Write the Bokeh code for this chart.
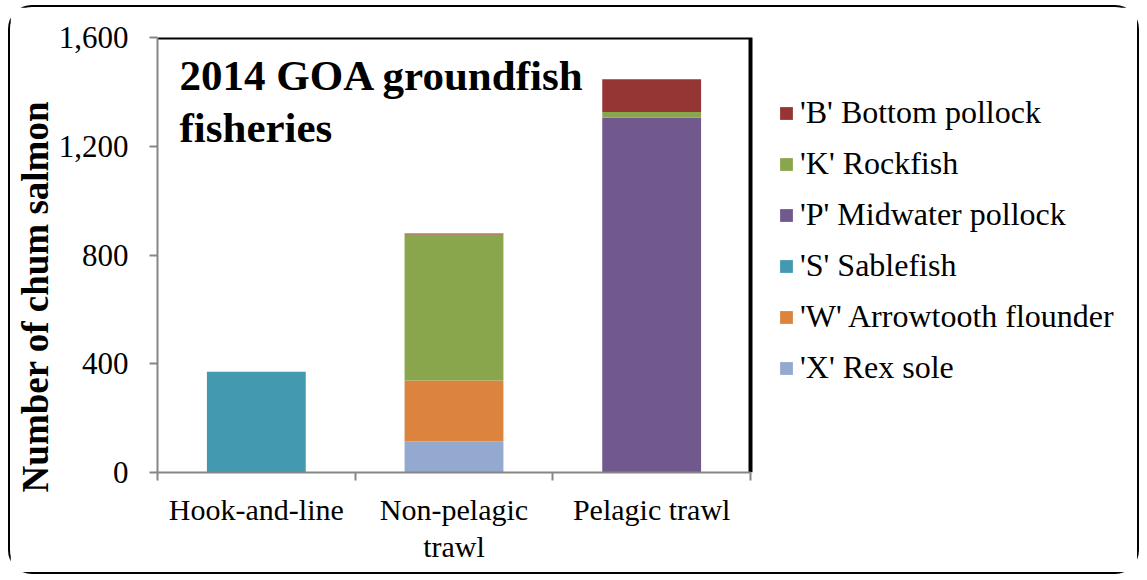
import numpy as np
from bokeh.plotting import figure
from bokeh.models import (ColumnDataSource, FixedTicker, Legend,
                          LegendItem, Label, NumeralTickFormatter, Range1d)
from bokeh.embed import file_html
from bokeh.resources import INLINE

# ---- data ----
categories = ["Hook-and-line", "Non-pelagic\ntrawl", "Pelagic trawl"]
series_keys = ["X", "W", "S", "P", "K", "B"]          # stacking order (bottom -> top)
series_labels = ["'X' Rex sole", "'W' Arrowtooth flounder", "'S' Sablefish",
                 "'P' Midwater pollock", "'K' Rockfish", "'B' Bottom pollock"]
rex_sole = [0, 114, 0]
arrowtooth_flounder = [0, 224, 0]
sablefish = [371, 0, 0]
midwater_pollock = [0, 0, 1305]
rockfish = [0, 537, 21]
bottom_pollock = [0, 4, 120]
series_colors = ["#93A9CF", "#DC843E", "#4299B0", "#71598E", "#8AA64D", "#963634"]
y_ticks = [0, 400, 800, 1200, 1600]
title_text = "2014 GOA groundfish\nfisheries"
y_title = "Number of chum salmon"

FONT = "Liberation Serif"
AXIS_GRAY = "#868686"

# layout (pixels): the bar area is 593 px wide; the frame also holds the legend to its right
W, H = 1131, 569
LEFT, TOP, BOTTOM, RIGHT = 147, 30, 104, 5
BAR_AREA_W = 593
n = len(categories)
x_end = n * (W - LEFT - RIGHT) / BAR_AREA_W

x_pos = np.arange(n) + 0.5
source = ColumnDataSource(dict(
    x=x_pos, X=rex_sole, W=arrowtooth_flounder, S=sablefish,
    P=midwater_pollock, K=rockfish, B=bottom_pollock))

p = figure(width=W, height=H,
           x_range=Range1d(0, x_end), y_range=Range1d(y_ticks[0], y_ticks[-1]),
           output_backend="svg", toolbar_location=None,
           min_border_left=LEFT, min_border_right=RIGHT,
           min_border_top=TOP, min_border_bottom=BOTTOM)
p.styles = {"border": "2px solid black", "border-radius": "24px",
            "margin": "5px 0px 0px 8px"}
p.outline_line_color = None
p.xgrid.visible = False
p.ygrid.visible = False
p.background_fill_color = "white"
p.border_fill_color = "white"

renderers = p.vbar_stack(series_keys, x="x", width=0.5, source=source,
                         fill_color=series_colors, line_color=None)

# black plot-area border on top and right of the bar area
p.line(x=[0, n, n], y=[y_ticks[-1], y_ticks[-1], y_ticks[0]],
       line_color="black", line_width=4)

# ---- y axis ----
ya = p.yaxis[0]
ya.ticker = FixedTicker(ticks=y_ticks)
ya.formatter = NumeralTickFormatter(format="0,0")
ya.axis_line_color = AXIS_GRAY
ya.axis_line_width = 2
ya.major_tick_line_color = AXIS_GRAY
ya.major_tick_line_width = 2
ya.major_tick_out = 8
ya.major_tick_in = 0
ya.minor_tick_line_color = None
ya.major_label_standoff = 21
ya.major_label_text_font = FONT
ya.major_label_text_font_size = "31px"
ya.major_label_text_color = "black"
# trailing no-break spaces shift the centred title toward the bottom, as in the original
ya.axis_label = y_title + "\u00a0" * 9
ya.axis_label_text_font = FONT
ya.axis_label_text_font_size = "37px"
ya.axis_label_text_font_style = "bold"
ya.axis_label_text_color = "black"
ya.axis_label_standoff = 0

# ---- x axis ----
xa = p.xaxis[0]
xa.bounds = (0, n)
xa.ticker = FixedTicker(ticks=list(x_pos), minor_ticks=list(np.arange(n + 1)))
xa.major_label_overrides = {float(v): c for v, c in zip(x_pos, categories)}
xa.axis_line_color = AXIS_GRAY
xa.axis_line_width = 2
xa.major_tick_line_color = None
xa.major_tick_out = 8
xa.major_tick_in = 0
xa.minor_tick_line_color = AXIS_GRAY
xa.minor_tick_line_width = 2
xa.minor_tick_out = 8
xa.minor_tick_in = 0
xa.major_label_standoff = 12
xa.major_label_text_font = FONT
xa.major_label_text_font_size = "30px"
xa.major_label_text_color = "black"
xa.major_label_text_line_height = 1.15

# ---- chart title inside the plot area ----
p.add_layout(Label(x=22, y=1548, x_units="screen", y_units="data", text=title_text,
                   text_font=FONT, text_font_size="43px", text_font_style="bold",
                   text_color="black", text_baseline="top", text_align="left",
                   text_line_height=1.12))

# ---- legend ----
items = [LegendItem(label=series_labels[i], renderers=[renderers[i]])
         for i in reversed(range(len(series_keys)))]
legend = Legend(items=items, location=(621, 86), orientation="vertical",
                glyph_width=16, glyph_height=16, label_standoff=6, spacing=14,
                padding=0, margin=0, border_line_color=None, background_fill_alpha=0,
                label_text_font=FONT, label_text_font_size="32px", label_text_color="black")
p.add_layout(legend, "center")

open("out.html", "w").write(file_html(p, INLINE))
